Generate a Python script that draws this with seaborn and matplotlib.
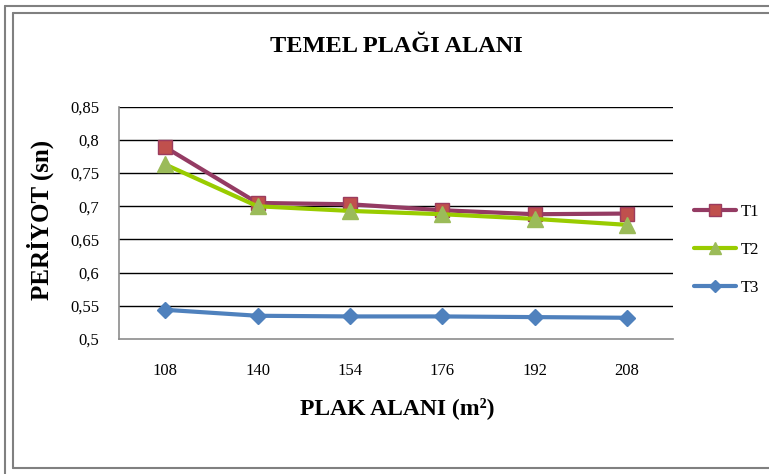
import matplotlib
matplotlib.use("Agg")
import matplotlib.pyplot as plt
from matplotlib.lines import Line2D
import pandas as pd
import seaborn as sns

# Plate area categories (m²) and period values (s) for each building type
areas = ["108", "140", "154", "176", "192", "208"]
t1 = [0.789, 0.705, 0.703, 0.694, 0.688, 0.689]
t2 = [0.763, 0.700, 0.693, 0.688, 0.681, 0.672]
t3 = [0.544, 0.535, 0.534, 0.534, 0.533, 0.532]
y_ticks = [0.5, 0.55, 0.6, 0.65, 0.7, 0.75, 0.8, 0.85]
y_tick_labels = ["0,5", "0,55", "0,6", "0,65", "0,7", "0,75", "0,8", "0,85"]

sns.set_theme(style="white")
plt.rcParams["font.family"] = ["Liberation Serif", "DejaVu Serif"]
plt.rcParams["text.color"] = "black"
plt.rcParams["xtick.color"] = "black"
plt.rcParams["ytick.color"] = "black"

W, H = 769, 474
fig = plt.figure(figsize=(W / 100, H / 100), dpi=100)
fig.patch.set_facecolor("white")


def fx(px):
    return px / W


def fy(py):
    return 1 - py / H


ax = fig.add_axes([fx(119), fy(339), (673 - 119) / W, (339 - 106.7) / H])

pos = list(range(len(areas)))
series = [
    ("T1", t1, "#943B63", "s", "#C0504D", "#9B3B5E", 10),
    ("T2", t2, "#99CC00", "^", "#9BBB59", "#9BBB59", 11),
    ("T3", t3, "#4F81BD", "D", "#4F81BD", "#4F81BD", 8.5),
]
for name, vals, lc, mk, mfc, mec, ms in series:
    df = pd.DataFrame({"x": pos, "y": vals})
    sns.lineplot(data=df, x="x", y="y", ax=ax, color=lc, linewidth=3,
                 marker=mk, markersize=ms, markerfacecolor=mfc,
                 markeredgecolor=mec, markeredgewidth=1, legend=False,
                 zorder=3)

ax.set_xlim(-0.5, len(areas) - 0.5)
ax.set_ylim(0.5, 0.85)
ax.set_xticks(pos)
ax.set_xticklabels(areas, fontsize=12)
ax.set_yticks(y_ticks)
ax.set_yticklabels(y_tick_labels, fontsize=12)
ax.tick_params(axis="y", length=0, pad=14)
ax.tick_params(axis="x", length=0, pad=17)

for v in y_ticks[1:]:
    ax.axhline(v, color="black", linewidth=1, zorder=1)

for side in ["top", "right"]:
    ax.spines[side].set_visible(False)
for side in ["left", "bottom"]:
    ax.spines[side].set_color("#8C8C8C")
    ax.spines[side].set_linewidth(1.2)

ax.set_xlabel("")
ax.set_ylabel("")

handles = [Line2D([], [], color=lc, linewidth=3, marker=mk, markersize=ms - 2,
                  markerfacecolor=mfc, markeredgecolor=mec)
           for _, _, lc, mk, mfc, mec, ms in series]
fig.legend(handles, [s[0] for s in series], loc="center left",
           bbox_to_anchor=(fx(679), fy(250)), frameon=False, fontsize=12,
           handlelength=2.5, labelspacing=1.3, handletextpad=0.3)

fig.text(fx(396), fy(46), "TEMEL PLAĞI ALANI", ha="center", va="center",
         fontsize=17.5, fontweight="bold")
fig.text(fx(397), fy(408), "PLAK ALANI (m²)", ha="center", va="center",
         fontsize=17, fontweight="bold")
fig.text(fx(40), fy(220), "PERİYOT (sn)", ha="center", va="center",
         rotation=90, fontsize=18, fontweight="bold")

# double grey frame around the chart
frame = dict(color="#808080", linewidth=1.5, transform=fig.transFigure)
fig.add_artist(Line2D([fx(5), fx(5)], [fy(6), fy(474)], **frame))
fig.add_artist(Line2D([fx(5), fx(769)], [fy(6), fy(6)], **frame))
fig.add_artist(Line2D([fx(13), fx(13)], [fy(13), fy(468)], **frame))
fig.add_artist(Line2D([fx(13), fx(769)], [fy(13), fy(13)], **frame))
fig.add_artist(Line2D([fx(13), fx(769)], [fy(468), fy(468)], **frame))

fig.savefig("out.png", dpi=100)
